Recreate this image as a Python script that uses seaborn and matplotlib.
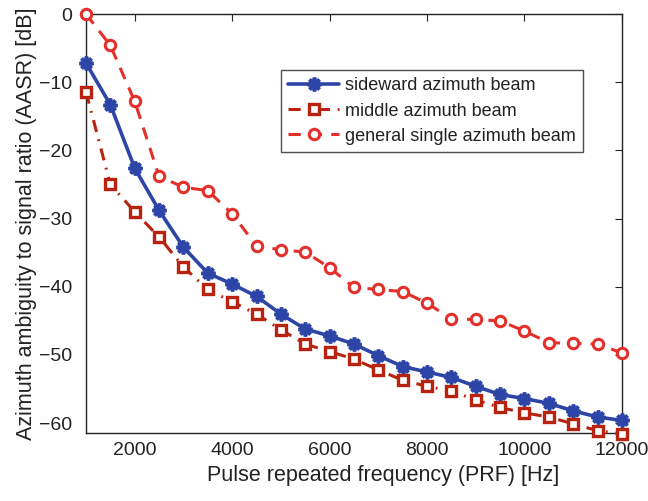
import numpy as np
import pandas as pd
import matplotlib
matplotlib.use("Agg")
import matplotlib.pyplot as plt
import seaborn as sns

prf = [1000, 1500, 2000, 2500, 3000, 3500, 4000, 4500, 5000, 5500, 6000, 6500,
       7000, 7500, 8000, 8500, 9000, 9500, 10000, 10500, 11000, 11500, 12000]
sideward = [-7.2, -13.3, -22.6, -28.8, -34.2, -38.0, -39.6, -41.4, -44.0, -46.2, -47.2, -48.4,
            -50.1, -51.7, -52.5, -53.3, -54.6, -55.8, -56.4, -57.1, -58.2, -59.1, -59.6]
middle = [-11.4, -25.0, -29.0, -32.7, -37.1, -40.4, -42.2, -44.0, -46.3, -48.4, -49.5, -50.6,
          -52.2, -53.7, -54.6, -55.3, -56.6, -57.7, -58.5, -59.1, -60.1, -61.1, -61.6]
general = [0.0, -4.6, -12.8, -23.8, -25.4, -25.9, -29.3, -34.0, -34.6, -34.9, -37.2, -40.1,
           -40.4, -40.7, -42.4, -44.7, -44.8, -45.0, -46.5, -48.2, -48.3, -48.4, -49.7]
labels = ["sideward azimuth beam", "middle azimuth beam", "general single azimuth beam"]
xticks = [2000, 4000, 6000, 8000, 10000, 12000]
yticks = [0, -10, -20, -30, -40, -50, -60]

sns.set_theme(style="white")
plt.rcParams['font.family'] = ['Liberation Sans', 'DejaVu Sans']

fig = plt.figure(figsize=(6.48, 5.01), dpi=100)
ax = fig.add_axes([0.1327, 0.135, 0.827, 0.837])

df = pd.DataFrame({"prf": prf * 3,
                   "val": sideward + middle + general,
                   "series": [labels[0]] * len(prf) + [labels[1]] * len(prf) + [labels[2]] * len(prf)})

blue = "#2d45a6"
dred = "#b8230f"
red = "#e3302b"

sns.lineplot(data=df[df.series == labels[0]], x="prf", y="val", ax=ax, color=blue,
             linewidth=2.6, marker=(8, 2, 0), markersize=10, markeredgewidth=2.6,
             markeredgecolor=blue, label=labels[0])
sns.lineplot(data=df[df.series == labels[1]], x="prf", y="val", ax=ax, color=dred,
             linewidth=2.2, marker="s", markersize=6.5, markerfacecolor="white",
             markeredgecolor=dred, markeredgewidth=2.4, label=labels[1])
ax.lines[-1].set_linestyle((0, (4, 2.5, 0.6, 2.5)))
sns.lineplot(data=df[df.series == labels[2]], x="prf", y="val", ax=ax, color=red,
             linewidth=2.2, marker="o", markersize=7.5, markerfacecolor="white",
             markeredgecolor=red, markeredgewidth=2.2, label=labels[2])
ax.lines[-1].set_linestyle((0, (4, 3)))

for ln in ax.lines:
    ln.set_clip_on(False)
    ln.set_zorder(3)

ax.set_xlim(1000, 12000)
ax.set_ylim(-61.5, 0)
ax.set_xticks(xticks)
ax.set_yticks(yticks)
ax.set_yticklabels(["0"] + ["\u2212" + str(-v) for v in yticks[1:]])
ax.tick_params(direction="in", length=5, width=0.8, top=True, right=True,
               labelsize=14, colors="#222222", pad=6)
ax.tick_params(axis="y", pad=10)
for s in ax.spines.values():
    s.set_visible(True)
    s.set_color("#222222")
    s.set_linewidth(1.0)
ax.set_xlabel("Pulse repeated frequency (PRF) [Hz]", fontsize=15.5, color="#222222", labelpad=5)
ax.xaxis.set_label_coords(0.555, -0.075)
ax.set_ylabel("Azimuth ambiguity to signal ratio (AASR) [dB]", fontsize=15.5, color="#222222", labelpad=1)

leg = ax.legend(loc="upper left", bbox_to_anchor=(0.364, 0.866), fontsize=13,
                frameon=True, fancybox=False, edgecolor="#222222", handlelength=2.8,
                borderpad=0.4, labelspacing=0.45, handletextpad=0.35, borderaxespad=0)
leg.get_frame().set_linewidth(1.0)
for t in leg.get_texts():
    t.set_color("#222222")

fig.savefig("out.png", dpi=100)
